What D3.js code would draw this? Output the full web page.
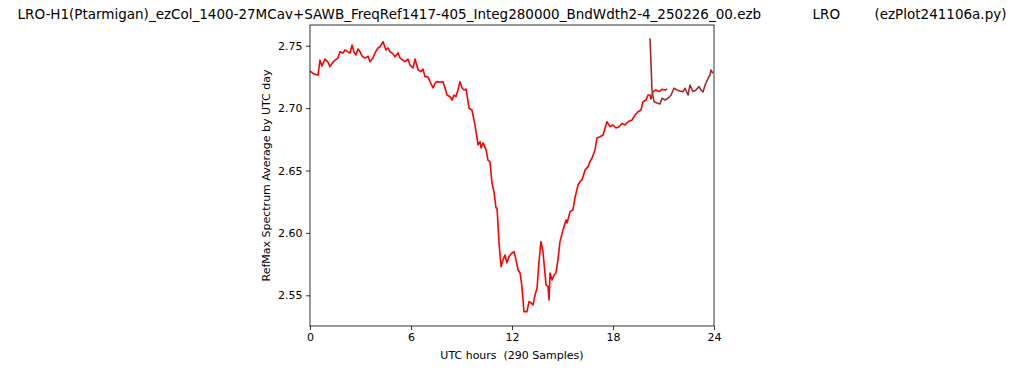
<!DOCTYPE html>
<html>
<head>
<meta charset="utf-8">
<script src="https://cdn.jsdelivr.net/npm/d3@7"></script>
<style>
  body { margin: 0; background: #fff; }
  svg { font-family: "DejaVu Sans", sans-serif; }
  text { white-space: pre; }
</style>
</head>
<body>
<div id="chart"></div>
<script>
const titleText = "LRO-H1(Ptarmigan)_ezCol_1400-27MCav+SAWB_FreqRef1417-405_Integ280000_BndWdth2-4_250226_00.ezb            LRO        (ezPlot241106a.py)";
const xLabel = "UTC hours  (290 Samples)";
const yLabel = "RefMax Spectrum Average by UTC day";
const xTicks = [0, 6, 12, 18, 24];
const yTicks = [2.55, 2.60, 2.65, 2.70, 2.75];

// red trace (hours, value)
const redHours = [0.00,0.24,0.48,0.59,0.71,0.89,1.07,1.19,1.37,1.49,1.66,1.78,1.96,2.08,2.26,2.38,2.50,2.61,2.73,2.85,
  2.97,3.09,3.27,3.45,3.56,3.74,3.86,4.04,4.16,4.34,4.51,4.63,4.75,4.93,5.05,5.23,5.35,5.52,5.64,5.82,
  5.94,6.12,6.24,6.42,6.59,6.71,6.83,7.01,7.13,7.31,7.43,7.54,7.72,7.90,8.02,8.14,8.32,8.44,8.55,8.67,
  8.79,8.91,9.03,9.15,9.27,9.45,9.62,9.80,9.92,9.98,10.10,10.16,10.28,10.46,10.57,10.69,10.81,10.93,11.05,11.11,
  11.23,11.35,11.47,11.58,11.70,11.82,12.00,12.12,12.24,12.36,12.48,12.59,12.71,12.89,13.01,13.13,13.25,13.37,13.49,13.60,
  13.72,13.84,14.02,14.14,14.20,14.26,14.38,14.50,14.61,14.73,14.85,15.03,15.21,15.27,15.45,15.62,15.74,15.92,16.04,16.16,
  16.34,16.52,16.63,16.75,16.93,17.05,17.23,17.41,17.53,17.64,17.82,18.00,18.18,18.36,18.54,18.71,18.89,19.13,19.31,19.49,
  19.66,19.78,19.96,20.08,20.20,20.26,20.38,20.56,20.73,20.91,21.09,21.21];
const redValues = [2.7297,2.7273,2.7265,2.7385,2.7337,2.7393,2.7369,2.7332,2.7369,2.7385,2.7401,2.7452,2.7442,2.7466,2.7450,2.7442,2.7506,2.7450,2.7426,2.7474,
  2.7452,2.7417,2.7401,2.7417,2.7372,2.7401,2.7442,2.7482,2.7492,2.7532,2.7466,2.7482,2.7452,2.7434,2.7412,2.7442,2.7401,2.7385,2.7372,2.7393,
  2.7345,2.7321,2.7393,2.7305,2.7292,2.7313,2.7252,2.7249,2.7212,2.7161,2.7201,2.7212,2.7209,2.7212,2.7161,2.7105,2.7091,2.7065,2.7105,2.7091,
  2.7145,2.7212,2.7161,2.7145,2.7153,2.6999,2.6985,2.6865,2.6761,2.6705,2.6731,2.6681,2.6721,2.6665,2.6584,2.6571,2.6400,2.6331,2.6200,2.6200,
  2.5920,2.5730,2.5784,2.5823,2.5760,2.5810,2.5839,2.5850,2.5784,2.5703,2.5679,2.5570,2.5369,2.5369,2.5449,2.5439,2.5423,2.5503,2.5559,2.5767,
  2.5930,2.5850,2.5583,2.5570,2.5463,2.5679,2.5623,2.5663,2.5679,2.5784,2.5930,2.6024,2.6104,2.6080,2.6170,2.6184,2.6280,2.6384,2.6411,2.6424,
  2.6504,2.6531,2.6571,2.6598,2.6664,2.6761,2.6771,2.6785,2.6841,2.6891,2.6851,2.6865,2.6841,2.6851,2.6878,2.6865,2.6891,2.6905,2.6945,2.6971,
  2.6985,2.7051,2.7065,2.7105,2.7105,2.7073,2.7132,2.7145,2.7132,2.7151,2.7145,2.7153];

// dark red trace
const brownHours = [20.20,20.32,20.44,20.61,20.79,20.91,21.09,21.27,21.45,21.62,21.80,21.98,22.16,22.28,22.46,22.57,22.75,22.93,23.11,23.23,
  23.35,23.47,23.65,23.76,23.82,23.94];
const brownValues = [2.7559,2.7132,2.7051,2.7041,2.7033,2.7079,2.7065,2.7079,2.7105,2.7159,2.7145,2.7137,2.7132,2.7159,2.7105,2.7185,2.7132,2.7145,2.7172,2.7145,
  2.7130,2.7185,2.7239,2.7265,2.7305,2.7279];

const width = 1024, height = 370;
const margin = {top: 25, right: 310, bottom: 44, left: 310};

const svg = d3.select("#chart").append("svg")
    .attr("width", width)
    .attr("height", height);

const x = d3.scaleLinear()
    .domain([0, 24])
    .range([margin.left, width - margin.right]);

const y = d3.scaleLinear()
    .domain([2.5254, 2.7666])
    .range([height - margin.bottom, margin.top]);

// title
svg.append("text")
    .attr("x", width / 2)
    .attr("y", 18.5)
    .attr("text-anchor", "middle")
    .attr("font-size", 13.5)
    .attr("xml:space", "preserve")
    .text(titleText);

// lines
const line = d3.line()
    .x(d => x(d[0]))
    .y(d => y(d[1]));

svg.append("path")
    .datum(redHours.map((h, i) => [h, redValues[i]]))
    .attr("fill", "none")
    .attr("stroke", "#ff0000")
    .attr("stroke-width", 1.6)
    .attr("stroke-linejoin", "round")
    .attr("d", line);

svg.append("path")
    .datum(brownHours.map((h, i) => [h, brownValues[i]]))
    .attr("fill", "none")
    .attr("stroke", "#a52a2a")
    .attr("stroke-width", 1.6)
    .attr("stroke-linejoin", "round")
    .attr("d", line);

// axes
const xAxis = svg.append("g")
    .attr("transform", `translate(0,${height - margin.bottom})`)
    .call(d3.axisBottom(x).tickValues(xTicks).tickSize(4).tickPadding(3.5).tickFormat(d3.format("d")));

const yAxis = svg.append("g")
    .attr("transform", `translate(${margin.left},0)`)
    .call(d3.axisLeft(y).tickValues(yTicks).tickSize(4).tickPadding(3.5).tickFormat(d3.format(".2f")));

[xAxis, yAxis].forEach(g => {
  g.select(".domain").remove();
  g.selectAll("line").attr("stroke", "#000").attr("stroke-width", 0.8);
  g.selectAll("text").attr("font-size", 11).attr("fill", "#000")
    .attr("font-family", "DejaVu Sans, sans-serif");
});

// frame
svg.append("rect")
    .attr("x", margin.left)
    .attr("y", margin.top)
    .attr("width", width - margin.left - margin.right)
    .attr("height", height - margin.top - margin.bottom)
    .attr("fill", "none")
    .attr("stroke", "#000")
    .attr("stroke-width", 0.8);

// axis labels
svg.append("text")
    .attr("x", (margin.left + width - margin.right) / 2)
    .attr("y", 359)
    .attr("text-anchor", "middle")
    .attr("font-size", 11)
    .attr("xml:space", "preserve")
    .text(xLabel);

svg.append("text")
    .attr("transform", `translate(270,${(margin.top + height - margin.bottom) / 2}) rotate(-90)`)
    .attr("text-anchor", "middle")
    .attr("font-size", 11)
    .text(yLabel);
</script>
</body>
</html>
